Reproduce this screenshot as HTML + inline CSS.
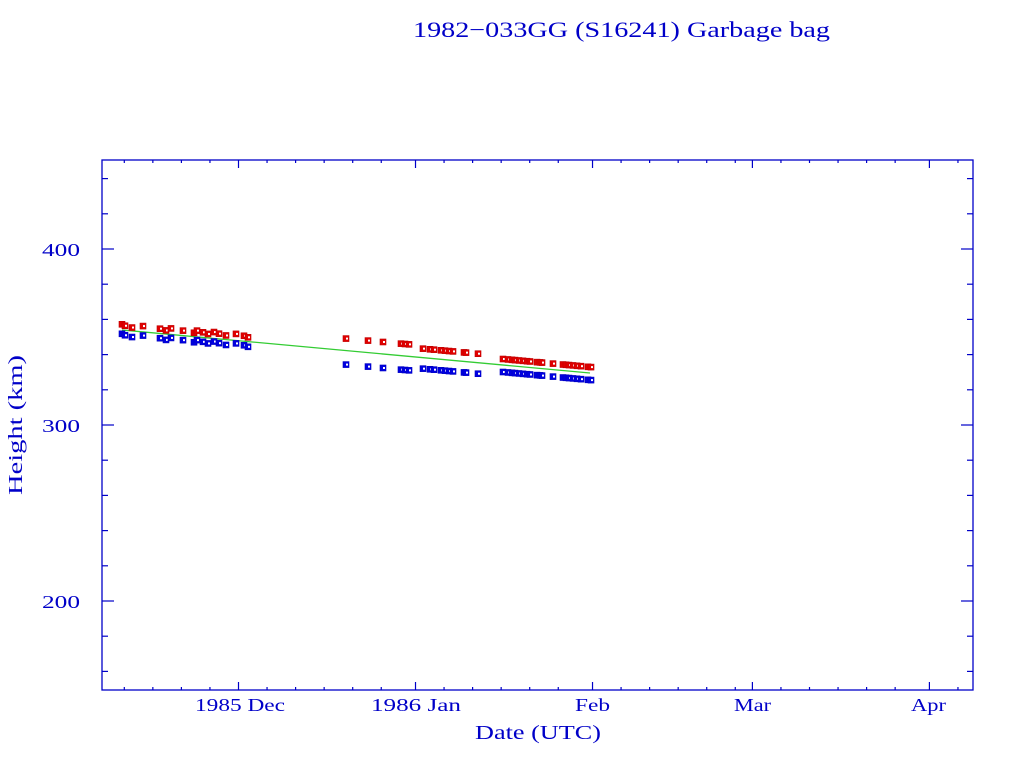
<!DOCTYPE html>
<html><head><meta charset="utf-8"><style>
html,body{margin:0;padding:0;background:#fff;width:1024px;height:768px;overflow:hidden}
svg text{font-family:"Liberation Serif","DejaVu Serif",serif;fill:#0000c8}
</style></head><body>
<svg id="s" width="1024" height="768" xmlns="http://www.w3.org/2000/svg">
<text x="413" y="37" font-size="22" textLength="417" lengthAdjust="spacingAndGlyphs">1982−033GG (S16241) Garbage bag</text>
<rect x="102" y="160" width="871" height="530" fill="none" stroke="#0000c8" stroke-width="1.3"/>
<g id="ax" stroke="#0000c8" stroke-width="1.2"></g>
<text x="42" y="256" font-size="18" textLength="38" lengthAdjust="spacingAndGlyphs">400</text>
<text x="42" y="432" font-size="18" textLength="38" lengthAdjust="spacingAndGlyphs">300</text>
<text x="42" y="608" font-size="18" textLength="38" lengthAdjust="spacingAndGlyphs">200</text>
<text x="195" y="711" font-size="18" textLength="90" lengthAdjust="spacingAndGlyphs">1985 Dec</text>
<text x="371" y="711" font-size="18" textLength="90" lengthAdjust="spacingAndGlyphs">1986 Jan</text>
<text x="575" y="711" font-size="18" textLength="35" lengthAdjust="spacingAndGlyphs">Feb</text>
<text x="734" y="711" font-size="18" textLength="37" lengthAdjust="spacingAndGlyphs">Mar</text>
<text x="911" y="711" font-size="18" textLength="35" lengthAdjust="spacingAndGlyphs">Apr</text>
<text x="475" y="739" font-size="20" textLength="126" lengthAdjust="spacingAndGlyphs">Date (UTC)</text>
<text transform="translate(22,495) rotate(-90)" font-size="20" textLength="140" lengthAdjust="spacingAndGlyphs">Height (km)</text>
<polyline points="122,330 590,373" stroke="#33cc33" stroke-width="1.3" fill="none"/>
<g id="pts"></g>
</svg>
<script>
var ax=document.getElementById('ax'),h='';
function Y(k){return 249+(400-k)*1.76;}
for(var k=160;k<=440;k+=20){var y=Y(k),L=(k%100==0)?12:6;h+='<line x1="102" y1="'+y+'" x2="'+(102+L)+'" y2="'+y+'"/><line x1="973" y1="'+y+'" x2="'+(973-L)+'" y2="'+y+'"/>';}
var starts=[[-30,30],[0,31],[31,31],[62,28],[90,31],[121,30]];
for(var mi=0;mi<starts.length;mi++){var m=starts[mi];for(var dd=0;dd<=25;dd+=5){var x=238.5+(m[0]+dd)*5.71;if(x<103||x>972)continue;var L2=dd==0?8:3;h+='<line x1="'+x+'" y1="690" x2="'+x+'" y2="'+(690-L2)+'"/><line x1="'+x+'" y1="160" x2="'+x+'" y2="'+(160+L2)+'"/>';}}
ax.innerHTML=h;
var X=[122,125,132,143,160,166,171,183,194,197,203,208,214,219,226,236,244,248,346,368,383,401,405,409,423,430,434,441,445,449,453,464,466,478,503,508,512,515,519,523,527,530,537,540,542,553,563,566,569,573,577,581,588,591];
var p='';
for(var i=0;i<X.length;i++){
 var x=X[i];
 var ry=325.5+(x-122)*(365-325.5)/(591-122)+((i%3)-1)*1.2;
 var gy=330+(x-122)*(373-330)/468;
 var by=ry+9.5;
 if(x>340&&x<480){ry=gy-(x<420?12:9);by=gy+(x<420?14:11);}
 if(x>=480){ry=gy-6;by=gy+7;}
 p+='<rect x="'+(x-3)+'" y="'+(ry-3)+'" width="6" height="6" fill="#e00000" stroke="#c00000" stroke-width="0.6"/>';
 p+='<rect x="'+(x-3)+'" y="'+(by-3)+'" width="6" height="6" fill="#0000e0" stroke="#0000c0" stroke-width="0.6"/>';
 p+='<rect x="'+x+'" y="'+(ry-1)+'" width="2" height="2" fill="#fff"/><rect x="'+x+'" y="'+(by-1)+'" width="2" height="2" fill="#fff"/>';
}
document.getElementById('pts').innerHTML=p;
</script>
</body></html>
